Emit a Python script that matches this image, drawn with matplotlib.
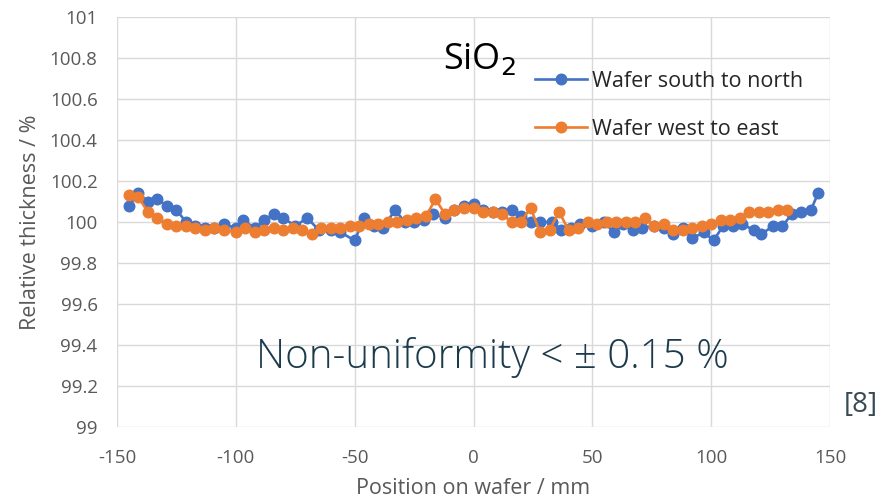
import matplotlib
matplotlib.use("Agg")
import matplotlib.pyplot as plt

# Data
x_sn = [-145, -141, -137, -133, -129, -125, -121, -117, -113, -109, -105, -100, -97, -92, -88, -84, -80,
        -75, -70, -65, -60, -56, -50, -46, -42, -38, -33, -29, -25, -21, -17, -12, -8, -4, 0, 4, 8, 12,
        16, 20, 24, 28, 33, 37, 41, 45, 50, 55, 59, 63, 67, 71, 76, 80, 84, 88, 92, 97, 101, 105, 109,
        113, 118, 121, 126, 130, 134, 138, 142, 145]
y_sn = [100.08, 100.14, 100.10, 100.11, 100.08, 100.06, 100.00, 99.98, 99.97, 99.97, 99.99, 99.97, 100.01,
        99.97, 100.01, 100.04, 100.02, 99.98, 100.02, 99.96, 99.96, 99.95, 99.91, 100.02, 99.98, 99.97,
        100.06, 100.00, 100.00, 100.01, 100.04, 100.02, 100.06, 100.08, 100.09, 100.06, 100.05, 100.05,
        100.06, 100.03, 100.00, 100.00, 100.00, 99.96, 99.97, 99.99, 99.98, 100.00, 99.95, 99.99, 99.96,
        99.97, 99.98, 99.97, 99.94, 99.97, 99.92, 99.95, 99.91, 99.98, 99.98, 99.99, 99.96, 99.94, 99.98,
        99.98, 100.04, 100.05, 100.06, 100.14]

x_we = [-145, -141, -137, -133, -129, -125, -121, -117, -113, -109, -105, -100, -96, -92, -88, -84, -80,
        -76, -72, -68, -64, -60, -56, -52, -48, -44, -40, -36, -32, -28, -24, -20, -16, -12, -8, -4, 0,
        4, 8, 12, 16, 20, 24, 28, 32, 36, 40, 44, 48, 52, 56, 60, 64, 68, 72, 76, 80, 84, 88, 92, 96,
        100, 104, 108, 112, 116, 120, 124, 128, 132]
y_we = [100.13, 100.12, 100.05, 100.02, 99.99, 99.98, 99.98, 99.97, 99.96, 99.97, 99.96, 99.95, 99.97,
        99.95, 99.96, 99.97, 99.96, 99.97, 99.96, 99.94, 99.97, 99.97, 99.97, 99.98, 99.98, 99.99, 99.99,
        100.00, 100.00, 100.01, 100.02, 100.03, 100.11, 100.04, 100.06, 100.07, 100.07, 100.05, 100.05,
        100.04, 100.00, 100.00, 100.07, 99.95, 99.96, 100.05, 99.96, 99.97, 100.00, 99.99, 100.00, 100.00,
        100.00, 100.00, 100.02, 99.98, 99.99, 99.96, 99.96, 99.97, 99.98, 99.99, 100.01, 100.01, 100.02,
        100.05, 100.05, 100.05, 100.06, 100.06]

x_ticks = [-150, -100, -50, 0, 50, 100, 150]
y_ticks = [99, 99.2, 99.4, 99.6, 99.8, 100, 100.2, 100.4, 100.6, 100.8, 101]
y_ticklabels = ["99", "99.2", "99.4", "99.6", "99.8", "100", "100.2", "100.4", "100.6", "100.8", "101"]

plt.rcParams['font.family'] = ['Open Sans', 'DejaVu Sans']
grey = '#595959'

fig = plt.figure(figsize=(8.82, 5.04), dpi=100)
ax = fig.add_axes([117/882, 1-427/504, (830-117)/882, (427-17)/504])

ax.plot(x_sn, y_sn, '-o', color='#4472C4', lw=1.9, ms=7.6, label='Wafer south to north', zorder=3)
ax.plot(x_we, y_we, '-o', color='#ED7D31', lw=1.9, ms=7.6, label='Wafer west to east', zorder=4)

ax.set_xlim(-150, 150)
ax.set_ylim(99, 101)
ax.set_xticks(x_ticks)
ax.set_xticklabels([str(v) for v in x_ticks])
ax.set_yticks(y_ticks)
ax.set_yticklabels(y_ticklabels)
ax.grid(True, color='#d9d9d9', lw=1.0)
ax.set_axisbelow(True)
for s in ax.spines.values():
    s.set_visible(False)
ax.tick_params(length=0, labelsize=13.5, colors=grey)
ax.tick_params(axis='x', pad=16)
ax.tick_params(axis='y', pad=14)
ax.set_xlabel('Position on wafer / mm', fontsize=15.5, color=grey, labelpad=8)
ax.set_ylabel('Relative thickness / %', fontsize=15.5, color=grey, labelpad=6)

ax.text((443-473.5)/2.377, 100 + (222-60)/205, 'SiO$_2$', fontsize=26, color='black', ha='left',
        va='center', math_fontfamily='dejavusans')
leg = ax.legend(loc='upper left', bbox_to_anchor=((535-117)/713, 1-(71-17)/410), frameon=False,
                fontsize=15.5, labelspacing=1.25, handlelength=2.4, handletextpad=0.25,
                borderaxespad=0, borderpad=0)
for t in leg.get_texts():
    t.set_color('#262626')

ax.text((492-473.5)/2.377, 100 + (222-357)/205, 'Non-uniformity < ± 0.15 %', fontsize=29,
        color='#1b3a4b', ha='center', va='center', fontweight='light')
fig.text(861/882, 1-405/504, '[8]', fontsize=20, color='#3a4a55', ha='center', va='center')

fig.savefig('out.png', dpi=100)
